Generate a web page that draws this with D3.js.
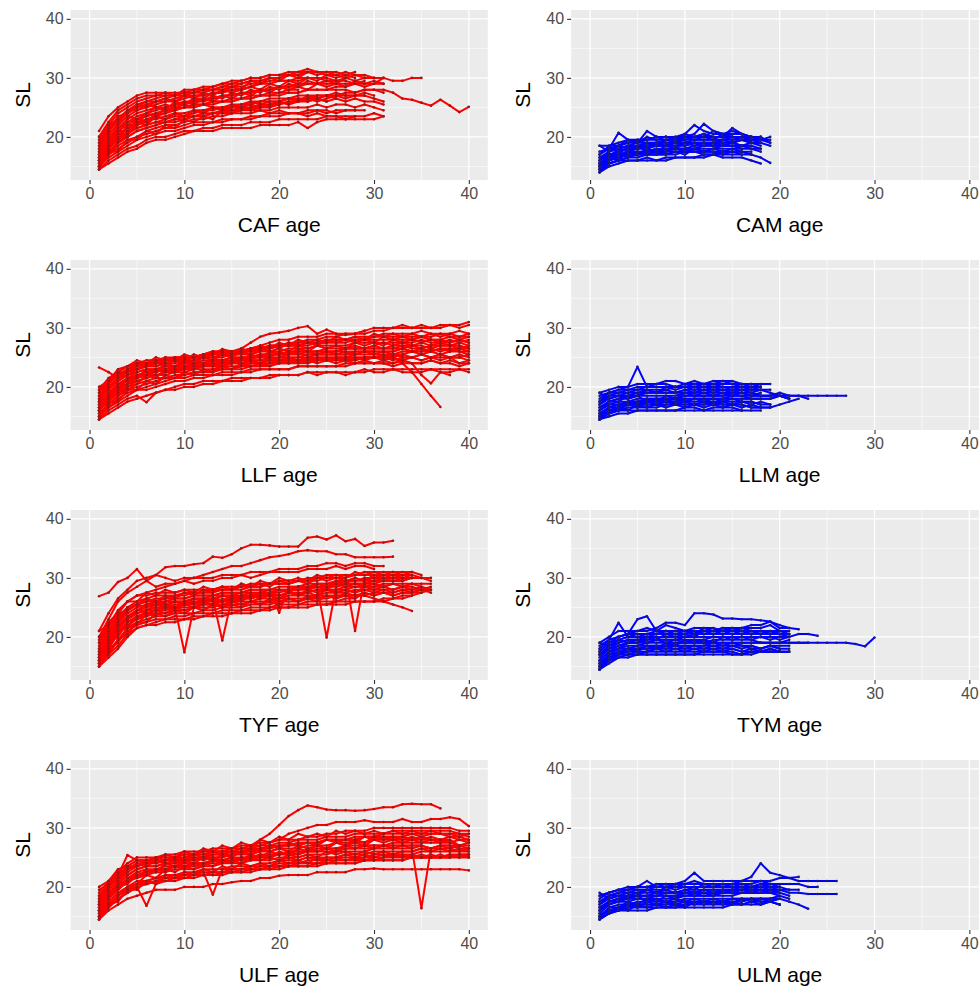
<!DOCTYPE html>
<html><head><meta charset="utf-8">
<script src="https://cdn.jsdelivr.net/npm/d3@7"></script>
<style>
body{margin:0;background:#fff;}
svg{display:block;}
text{font-family:Arial,"Liberation Sans",sans-serif;}
</style>
</head><body>
<svg id="chart" width="979" height="990"></svg>
<script>
// ---------- tick labels ----------
const xTicks = [0, 10, 20, 30, 40];
const xMinor = [5, 15, 25, 35];
const yTicks = [20, 30, 40];
const yMinor = [15, 25, 35];

// ---------- panels ----------
const panelNames = ["CAF", "CAM", "LLF", "LLM", "TYF", "TYM", "ULF", "ULM"];
const panelColors = ["red", "blue", "red", "blue", "red", "blue", "red", "blue"];

// each inner array: SL values of one fish at ages 1, 2, 3, ...
const CAF = [
[14.5,15.5,16.5,17.5,18,19,19.5,19.5,20,20.5,21,21,21,21.5,21.5,21.5,21.5,22,22,22,22,22.5,21.5,22.5,23,23,23,23,23,23,23.5],
[15,16.5,17.5,18.5,19.5,20,20.5,21,21,21.5,22,22,22.5,22.5,23,23,23,23.5,23.5,23.5,24,24,24,24.5,24,24.5,24.5,24.5],
[15,17,18.5,19.5,20,21,21.5,22,22,22.5,23,23,23.5,23.5,24,24,24,24.5,24.5,25,25,25,25,25.5,25,25.5,25.5,25,25.5,25,24.5],
[16,18,19.5,20.5,21.5,22,22.5,22.5,23,23.5,23.5,24,24,24.5,24.5,25,25,25.5,25.5,25.5,26,26,26,26.5,26],
[16.5,18.5,20,21.5,22,23,23,23.5,24,24,24.5,24.5,25,25,25.5,25.5,26,26,26.5,26.5,26.5,27,27,27,27,27.5,27,27,27.5,27],
[17,19.5,21,22,23,23.5,24,24.5,24.5,25,25.5,25.5,26,26,26.5,26.5,27,27,27.5,27.5,28,28],
[17.5,20,21.5,23,24,24.5,25,25,25.5,26,26,26.5,26.5,27,27,27.5,27.5,28,28,28.5,28.5,28.5,29,29,29,29,29,29,28.5,29,29],
[18.5,21,22.5,24,25,25.5,26,26,26.5,27,27,27,27.5,27.5,28,28,28.5,29,29,29.5,29.5,29.5,30,30,30,29.5,30],
[19.5,22,24,25,26,26.5,27,27,27,27.5,27.5,28,28,28.5,28.5,29,29.5,29.5,30,30,30.5,30.5,31,31,31,30.5,31,30.5,30.5,30,30],
[21,23.5,25,26,27,27.5,27.5,27.5,27,28,28,28.5,28.5,29,29.5,29.5,30,30,30.5,30.5,31,31,31.5,31,31,31,30.5,31],
[16,18.5,20.5,21.5,22.5,23,23.5,24,24.5,25,25,25.5,25.5,26,26,26.5,26.5,27,27,27,27.5,27.5,28,28,28,28.5,28.5,29,29,29,30,29.5,29.5,30,30],
[15.5,17.5,19,20,21,21.5,22,22.5,23,23,23.5,23.5,24,24,24.5,24.5,25,25,25.5,25.5,26,26,26.5,26.5,27,27,27.5,27.5,28,28,28,27.5,26.5,26.3,25.8,25.3,26.3,25.3,24.2,25.1],
[15.5,17.5,19,20,21,21.5,22,22.5,22.5,23,23.5,23.5,24,24,24,24.5,24.5,25,25,25.5],
[17,19.5,21.5,22.5,23.5,24,24.5,25,25.5,25.5,26,26,26.5,27,27,27.5,27.5,28,28,28.5,28.5,29,29,29,29.5,29.5],
[18,21,23,24.5,25.5,26,26.5,27,27,27.5,27.5,28,28,28.5,29,29,29.5,29.5,30,30,30.5,30.5,31,31],
[16,18,19.5,21,21.5,22,22.5,23,23.5,23.5,24,24.5,24.5,25,25,25.5,25.5,26,26,26,26.5,26.5,26.5,27,27,27,27,27,27,26.5,26],
[15,17,18,19,20,20.5,21,21.5,21.5,22,22.5,22.5,22.5,23,23,23,23.5,23.5,24,24,24,24,24.5,24.5,24.5,24,24.5,24.5,24.5],
[18,20.5,22,23.5,24.5,25,25.5,26,26,26.5,27,27,27.5,27.5,28,28,28.5,29],
[20,22.5,24.5,25.5,26.5,27,27,27.5,27.5,27.5,28,28,28.5,29,29,29.5,30,30,30.5,30.5,30.5,31,31,31,30.5,30.5,30,30.5,30,30],
[16.5,19,21,22.5,23,23.5,24,24.5,25,25,25.5,25.5,26,26,26,26.5,26.5,27,27,27.5,27.5,27.5,28,28,28,28,28,27.5,28,28,27.5],
[19,21.5,23,24,25,26,26,26.5,27,27,27.5,27.5,28,28,28.5,28.5,29,29,29.5,29.5,29.5,30,30,30,29.5,29.5,29.5,29,29.5],
[14.5,16,17,18,18.5,19.5,20,20,20.5,21,21,21.5,21.5,22,22,22,22.5,22.5,22.5,23,23,23,23,23,23.5,23.5,23.5,23.5,23.5,24,23.5],
[15,17,19,20.5,22,22.5,24,24,25.5,25.5,26.5,26.5,27.5,27.5,28.5,28,29.5,29,30,29.5,30.5,30,31,30.5,31],
[20,22,23,24.5,24.5,25.5,25,25.5,25,25.5,25,25.5,25,25,24.5,25,24.5,24.5,24,24.5,24,24,23.5,24,23.5,23.5,23,23.5],
[16,19,19.5,22,22,24,23.5,25,24.5,26,25.5,26.5,26,27,26.5,27.5,27,28,27.5,28.5,28,28.5,28,29,28.5,29,28.5,29.5,29,29.5,29],
[17.5,18.5,21,21,23,22.5,23.5,23,24,23.5,24.5,24,25,24.5,25.5,25,26,25.5,26,26,26.5,26,27,26.5,27,26.5],
[18.5,20.5,22,23.5,23,24,25,24.5,26,25.5,26.5,26,27,26.5,27.5,27,28,27.5,28.5,28,29,28.5,29.5,29,29.5,29,30,29.5,30],
[14.5,17.5,17.5,19.5,19.5,21,20.5,22,21.5,23,22.5,23.5,23,24.5,24,25,24.5,25.5,25,26,25.5,26.5,26,26.5,26,26.5,26,26.5,26,26,25.5],
[19,21,23.5,24,25.5,25,26,26.5,26,27,26.5,27.5,27,28,27.5,28,28.5,28,29,28.5,29.5,29,30,29.5,30.5,30,30.5,30],
[16.5,18,20.5,20.5,22.5,22,23.5,23,24,23.5,24.5,24,25,24.5,25,25,25.5,25,25.5,26,25.5,26,26.5,26,26.5,27,26.5,27,27]
];

const CAM = [
[14,15.5,16,16.5,16.5,17,17,17,17.5,17.5,17.5,17.5,18,18,18,18,18,17.5],
[15,16,17,17.5,18,18,18.5,18.5,18.5,19,19,19,19,19.5,19,19.5,19.5,19.5,19.5],
[16,17.5,18,18.5,19,19,19,19.5,19.5,19.5,20,20,20,20,20,20,20,19.5,20],
[18.5,18.5,19,19.5,19.5,19.5,20,20,20,20.5,22,21,20.5,20.5,21,20.5,20,20],
[14.5,15.5,16,16,16,16.5,16,16.5,16.5,16.5,16.5,16.5,17,16.5,16.5,16.5,16,15.5],
[15,16.5,17,17.5,17.5,17.5,18,18,18,18,18.5,18.5,18.5,18.5,18.5,18.5,18.5],
[16.5,17.5,18.5,19,19,19.5,19.5,19.5,19.5,20,20,20.5,20,20,21.5,20.5,20,20,19],
[14.5,16,16.5,17,17,17.5,17.5,17.5,18,18,18,18,18,18.5,18.5,18.5,18,18],
[15.5,17,17.5,18,18,18.5,18.5,18.5,19,19,19,19,19,19,19,19.5,19,19],
[17,18,18.5,19,19.5,19.5,20,20,20,20,20.5,22.2,21,20.5,20.5,20.5,20,19.5],
[14,15,15.5,16,16,16,16,16,16.5,16.5,16.5,17,17,17,17,17],
[15.5,16.5,17,17,17.5,17.5,17.5,18,18,18,18,18.5,18.5,18.5,18.5,18],
[16,17.5,18,18.5,18.5,19,19,19,19,19.5,19.5,19.5,19.5,19.5,20,19.5,19.5,19,18.5],
[15,16,16.5,17,17,17,17,17.5,17.5,17.5,17.5,17,17,17.5,17.5,17.5,17],
[17.5,18,20.7,19.5,19,21,20,20,19.5,20,20,20,21,20.5,20,20,20],
[16,17,17.5,18,18,18.5,18.5,18.5,18.5,18.5,19,19,19,19,19,18.5,19,18.5],
[14.5,15.5,16,16.5,17,17,17,17,17,17.5,17.5,17.5,17.5,17.5,17.5,17.5,17,16.5,15.6],
[15.5,16.5,17.5,18,18.5,18.5,19,19,19,19,19.5,19.5,19.5,19.5,19.5,19.5,19,19],
[14,16.5,16,17.5,17,18,17.5,18.5,18,19,18.5,19,18.5,19.5,19,19.5,19],
[18.5,17.5,18.5,18,18.5,17.5,18,17.5,18,17.5,18,17.5,17.5,17,17.5,17,17],
[15,17,17,18.5,18,19,18.5,19.5,19,20,19.5,20,19.5,20.5,20,20,19.5,20],
[16.5,16.5,18,17.5,18.5,18,19,18.5,19,18.5,19,18.5,19,18.5,19,18.5,18.5,18],
[15.5,16,17,16.5,17.5,17,17.5,17,17.5,17,18,17.5,18,17.5,18,17.5,17.5],
[17,18.5,18.5,19.5,19,20,19.5,20,19.5,20.5,20,20.5,20,20,19.5,20,19.5,19.5,19]
];

const LLF = [
[14.5,15.5,16.5,17.5,18,18.5,19,19.5,19.5,20,20,20.5,20.5,21,21,21,21.5,21.5,21.5,22,22,22,22.5,22,22.5,22.5,22,22.5,23,22.5,22.5,23,22.5,22.5,22.5,23,22.5,22.5,23,22.5],
[15,16.5,17.5,18.5,19.5,19.5,20,20.5,21,21,21.5,21.5,22,22,22,22.5,22.5,23,23,23,23,23.5,23.5,23.5,23.5,23.5,24,24,24,24,24,24,24.5,24,24,24.5,24,24.5,24,24],
[16,17.5,19,20,21,21.5,22,22,22.5,22.5,23,23,23,23.5,23.5,23.5,24,24,24,24.5,24.5,24.5,25,25,25,25,25,25.5,25.5,25.5,25.5,25.5,25.5,26,25.5,26,25.5,26,26,25.5],
[17,19,20.5,21.5,22.5,23,23,23.5,23.5,24,24,24,24.5,24.5,25,25,25,25.5,25.5,25.5,26,26,26,26,26.5,26.5,26.5,26.5,26.5,27,26.5,27,27,27,26.5,27,27,27,26.5,27],
[18,20,21.5,22.5,23.5,24,24,24.5,24.5,24.5,25,25,25.5,25.5,25.5,26,26,26.5,26.5,27,27,27,27,27.5,27.5,27.5,27.5,28,28,28,28,28,28,28,28.5,28,28,28.5,28,28.5],
[19,21,22,23,24,24,24.5,24.5,25,25,25,25.5,26,26,26,26.5,27.5,28.5,29,29.2,29.5,30,30.3,29,29.7,29,28.8,29,29,29.5,29.5,30,30,30,30,30,30.5,30.5,30.5,31],
[18.5,20.5,22,23,23.5,24,24,24.5,24.5,25,25,25.5,25.5,26,26,26,26.5,26.5,27,27,27.5,27.5,28,28,28.5,28.5,29,29,29.5,30,30,30,30.5,30,30.5,30,30,30.5,30,30.5],
[17.5,19.5,21,22,23,23.5,23.5,24,24.5,24.5,25,25,25,25.5,25.5,26,26,26.5,26.5,27,27,27,27.5,27.5,28,28,28,28.5,28.5,28.5,29,29,29,29,29.5,29,29,29,29.5,29],
[15.5,17,18.5,19.5,20,20.5,21,21.5,21.5,22,22.5,22.5,22.5,23,23,23,23.5,23.5,23.5,24,24,24,24,24.5,24.5,24.5,24.5,24.5,25,25,25,24.5,25,25,24.5,25,25,25,25,24.5],
[16,18,19,20.5,21,21.5,22,22.5,22.5,23,23,23.5,23.5,23.5,24,24,24,24,24.5,24.5,24.5,24.5,24.5,25,25,25,25,25,25,25,25,25,24,22.5,20.5,18.5,16.6],
[23.3,22.5,21.5,22,22.5,23,23,23.5,23.5,24,24,24.5,24.5,24.5,25,25,25,25.5,25.5,25.5,25.5,26,26,26,26,26,26.5,26.5,26.5,26.5,26.5,26.5,26.5,27,27,26.5,27,27,27,26.5],
[14.5,16,17,18,18.5,17.4,19,19.5,20,20.5,20.5,21,21,21,21.5,21.5,21.5,21.5,22,22,22,22,22.5,22.5,22.5,22.5,22.5,22.5,22.5,23,23,23,23,23,23,23,23,23,23,23],
[15,16.5,18,19,19.5,20,20.5,21,21.5,21.5,22,22,22,22.5,22.5,22.5,23,23,23,23,23,23.5,23.5,23.5,23.5,23.5,23.5,24,24,24,24,23.5,24,24,22,20.6,22.5,22],
[16.5,18.5,20,21,22,22.5,22.5,23,23,23.5,23.5,24,24,24,24.5,24.5,25,25,25,25,25.5,25.5,25.5,25.5,26,26,26,26,26,26,26,26,26.5,26,26,26.5,26,26.5,26,26],
[17.5,19.5,21,22,23,23.5,23.5,24,24,24.5,24.5,25,25,25,25.5,25.5,25.5,26,26,26,26.5,26.5,26.5,27,27,27,27,27.5,27.5,27.5,27.5,27.5,27.5,27.5,28,27.5,27.5,27.5,28,27.5],
[16,18,19.5,20.5,21.5,22,22,22.5,23,23,23.5,23.5,23.5,24,24,24,24.5,24.5,24.5,25,25,25,25,25.5,25.5,25.5,25.5,25.5,26,26],
[19,21,22.5,23.5,24,24.5,24.5,25,25,25,25,25.5,26,26,26,26,26.5,26.5,26.5,27,27,27,27.5,27.5,27.5],
[15.5,17,18.5,19.5,20.5,21,21.5,21.5,22,22,22.5,22.5,23,23,23,23.5,23.5,23.5,24,24,24,24.5,24.5,24.5,24.5,25,25,25,25,25,25,25.5,25,25,25.5,25,25.5,25,25,25.5],
[17,18.5,20,21.5,22,22.5,23,23,23.5,23.5,24,24,24.5,24.5,24.5,25,25,25,25.5,25.5,25.5,26,26,26,26,26,26.5,26.5,26.5,26.5,26.5,26.5,27,26.5,26.5,27,27,27,27,26.5],
[19.5,21.5,22.5,23.5,24,24,24.5,24.5,25,25,25,25.5,25.5,26,26,26,26.5,26.5,27,27,27,27.5,27.5,27.5,28,28,28,28,28,28.5,28.5,28.5,28.5,28.5,28.5,28.5,29,28.5,28.5,28.5],
[16.5,18,19.5,20.5,21.5,22,22.5,23,23,23,23.5,23.5,24,24,24,24.5,24.5,24.5,25,25,25,25,25.5,25.5,25.5,25.5,25.5,26,26,26,26,26,26.5,26,26,26,26.5,26.5,26.5,26.5],
[18,20,21.5,22.5,23,23.5,24,24,24.5,24.5,25,25,25.5,26.4,26,26,26.5,27,27.5,28,28,28.5,28.5,28.5,29,29,29,29,29.5],
[15,17,18.5,20,20.5,22,21.5,23,22.5,23.5,23,24,23.5,24.5,24,25,24.5,25.5,25,26,25.5,26.5,26,27,26.5,27,26.5,27.5,27,27.5,27,28,27.5,28,27.5,28,27.5,28,27.5,28],
[19.5,20.5,22.5,22.5,24,23.5,24.5,24,24.5,24,24.5,24,24.5,24,24.5,24,24.5,24,24.5,24,24.5,24,24.5,24,24.5,24,24.5,24,24.5,24,24.5,24,24.5,24,24,24.5,24,24,23.5,24],
[16,18.5,19.5,21.5,21.5,23,22.5,24,23.5,24.5,24,25,24.5,25.5,25,26,25.5,26.5,26,26.5,26,27,26.5,27,26.5,27,26.5,27,26.5,27,27.5,27,27.5,27,27.5,27,27.5,27,27.5,27],
[17.5,18.5,20.5,21,22,22,23,22.5,23.5,23,24,23.5,24,23.5,24.5,24,24.5,24,25,24.5,25,24.5,25,24.5,25,24.5,25,24.5,25,25,25.5,25,25.5,25,25.5,25,25.5,25,25.5,25],
[14.5,17.5,17.5,19.5,19.5,21,20.5,22,21.5,22.5,22,23,22.5,23.5,23,24,23.5,24,23.5,24.5,24,24.5,24,25,24.5,25,24.5,25,24.5,25,24.5,25,24.5,25,24.5,25,24.5,25,24,24.5],
[18.5,20,21.5,23,23,24,24,25,24.5,25.5,25,25.5,25.5,26,25.5,26.5,26,27,26.5,27.5,27,28,27.5,28,27.5,28.5,28,28.5,28,29,28.5,29,28.5,29,28.5,29,28.5,29,28.5,29],
[16.5,18,20,20.5,22,22,23,23,23.5,23.5,24,24,24.5,24.5,25,24.5,25.5,25,26,25.5,26,25.5,26,25.5,26,25.5,26,25.5,26,25.5,26,25.5,26,26,26.5,26,26.5,26,26.5,26],
[20,21,23,23.5,24.5,24,25,24.5,25,24.5,25.5,25,26,25.5,26,25.5,26.5,26,27,26.5,27.5,27,27.5,27,28,27.5,28,27.5,28,27.5,28.5,28,28.5,28,28.5,28,28,27.5,28,27.5]
];

const LLM = [
[14.5,15.5,16,16,16,16,16,16,16,16.5,16.5,16,16.5,16.5,16.5,16,16,16],
[15,16,16.5,17,17,17,17,17.5,17.5,17.5,17.5,17.5,17.5,17.5,17.5,17.5,17.5,17],
[16,17,17.5,17.5,18,18,18,18,18,18.5,18.5,18.5,18.5,18.5,18.5,18.5,18.5,18.5,18.5],
[17,18,18.5,18.5,18.5,19,19,19,19,19,19,19.5,19.5,19.5,19.5,19.5,19.5,19.5,19.5],
[18,19,19.5,20,23.4,20,20,20,20,20,20.5,20.5,20.5,20.5,20.5,20.5,20.5,20],
[15.5,16.5,17,17,17.5,17.5,17.5,17.5,17.5,18,18,18,18,18,18,18,18,18,18,18.5,18.5,18.5,18.5,18.5,18.5,18.5,18.5],
[16.5,17.5,18,18,18.5,18.5,18.5,18.5,18.5,19,19,19,19,19,19,19,18.5,18.5,18.5,18.5,18],
[19,19.5,20,20,20.5,20.5,20.5,21,21,20.5,21,20.5,21,21,21,20.5,20.5,20.5,20.5],
[14.5,15.5,16,16.5,16.5,16.5,16.5,17,17,17,17,17,17,17,17,17,16.5,16.5,16.5,17,17.5,18],
[15,16,16.5,17,17,17.5,17.5,17.5,17.5,17.5,18,18,18,18,18,18,18,18,18,18.5,18],
[17.5,18.5,19,19,19.5,19.5,19.5,19.5,20,20,20,20,20,20,20,20,20,20],
[16,17,17,17.5,17.5,17.5,18,18,18,18,18,18,18,18,18.5,18.5,18,18],
[14.5,15,15.5,15.5,16,16,16,16,16,16,16,16,16,16,16,16],
[18.5,19,19,19.5,19.5,20,20,20,20,20,20,20.5,20,20.5,20.5,20,20],
[15,16.5,17,17.5,17.5,18,18,18,18,18.5,18.5,18.5,18.5,18.5,19,19,19,18.5,18.5,19,18.5,18.5,18],
[16.5,17.5,18,18.5,19,19,19,19,19,19.5,19.5,19.5,19.5,19.5,19.5,19.5,19.5,19.5],
[15.5,16.5,17,17,17,17,17,17,17,17,17,17,17.5,17,17,17,16.5,16.5,16.5],
[17.5,19,19.5,19.5,20,20,20.5,20.5,20,20.5,20.5,20.5,20.5,21,20.5,20.5,20,20],
[14.5,16.5,16.5,17.5,17,18,17.5,18.5,18,19,18.5,19,18.5,19,18.5,19,18.5,19],
[19,18,18.5,18,18.5,17.5,18,17.5,18,17.5,18,17.5,18,17.5,18,17.5,17.5,17,17],
[16,17.5,17.5,18.5,18.5,19.5,19,20,19.5,20,19.5,20,19.5,20,19.5,20,19.5,20],
[15,16,16,17,16.5,17.5,17,17.5,17,17.5,17,17.5,17,17.5,17,17.5,17,17.5,17],
[17,18.5,18.5,19,19,19.5,19,19.5,19,19.5,19,19.5,19,19.5,19,19.5,19,19.5,19,18.5,18],
[15.5,15.5,16.5,16,17,16.5,17,16.5,17,16.5,17,16.5,17,16.5,17,16.5,17,16.5]
];

const TYF = [
[26.9,27.5,29.3,30,31.5,29.5,28.5,29,29,29.5,29,29.5,29.5,30,30,30.5,30,30.5,31,31,31,31,31.5,31.5,31.5,32,31.5,32,32,31.5],
[20,23,26,27.5,28.5,29.5,30.5,31.8,32,32,32.3,32.5,33.6,33.4,34,35,35.6,35.6,35.5,35.3,35.3,35.3,36.8,37,36.5,37.2,36.2,36.6,35.4,36,36,36.3],
[19,22,24.5,26,27,27.5,28,28.5,29,29.5,30,30.5,31,31.5,32,32,32.5,33,33.5,33.7,34,34.5,34.7,34.5,34.5,34,34,33.5,33.5,33.5,33.5,33.6],
[16,18.5,21,22.5,23.5,24,24.5,25,25,17.4,25,25.5,25.5,26,26,26.5,26.5,27,27,27,27.5,27.5,27.5,28,28,28,28.5,28.5,28.5,28.5,29,29],
[16.5,19,21.5,23,24,24.5,25,25,25.5,25.5,26,26,26.5,19.4,26.5,27,27,27,27.5,27.5,28,28,28,28.5,28.5,28.5,29,29,29,29,29.5,29.5,29.5],
[17,19.5,22,23.5,24.5,25,25.5,25.5,26,26,26.5,26.5,27,27,27,27.5,27.5,27.5,28,28,28,28.5,28.5,28.5,19.9,28.5,29,29,29,29.5,29.5,29.5,29.5],
[18,21,23,24.5,25.5,26,26.5,26.5,27,27,27.5,27.5,27.5,28,28,28,28.5,28.5,29,29,29,29.5,29.5,29.5,30,30,30,21,30,30,30.5,30.5,30.5,30.5],
[17.5,20,22.5,24,25,25.5,26,26,26.5,26.5,27,27,27,27.5,27.5,27.5,28,28,28,24.1,28.5,28.5,28.5,29,29,29,29.5,29.5,29.5,29.5,30,30],
[16,18,20.5,22,23,23.5,24,24,24.5,24.5,25,25,25,25.5,25.5,25.5,26,26,26,26.5,26.5,26.5,26.5,27,27,27,27,27,27,26.5,26,25.5,25,24.4],
[15,16.5,18,20,21.5,22,22,22.5,22.5,23,23,23.5,23.5,23.5,24,24,24,24.5,24.5,25,25,25,25,25.5,25.5,25.5,25.5,26,26,26,26,26.5,26.5,27,27.5,28],
[15.5,17.5,19.5,21.5,22.5,23,23.5,23.5,24,24,24,24.5,24.5,25,25,25,25.5,25.5,25.5,26,26,26,26.5,26.5,26.5,27,27,27,27,27.5,27.5,27.5,28,28,28,28.5],
[16.5,19,21.5,23,24,24.5,25,25,25,25.5,25.5,26,26,26,26.5,26.5,26.5,27,27,27,27.5,27.5,27.5,28,28,28,28,28.5,28.5,28.5,28.5,29,29,29,29,29],
[18,20.5,22.5,24.5,25.5,26,26,26.5,26.5,26.5,27,27,27,27.5,27.5,27.5,28,28,28,28.5,28.5,28.5,29,29,29,29.5,29.5,29.5,30,30,30,30,30,30,30,29.5],
[20,22,24,26,27,27,27.5,27.5,27.5,28,28,28,28,28.5,28.5,28.5,29,29,29,29.5,29.5,29.5,30,30,30.5,30.5,30.5,30.5,31,31,31,31,31,31,30.5],
[21,24,26.5,28,29.5,30,30.5,30,29.5,30,30,30,30,30.5,30.5,30.5,31,31,31,31.5,31.5,31.5,32,32,32.5,32.5,32,32.5,32.5,32,32],
[15,17.5,19.5,21,22,22.5,23,23,23.5,23.5,24,24,24,24.5,24.5,24.5,25,25,25,25.5,25.5,25.5,26,26,26,26,26.5,26.5],
[17,19.5,22,23.5,24.5,25.5,25.5,26,26,26,26.5,26.5,26.5,27,27,27,27.5,27.5,27.5,28,28,28,28.5,28.5,28.5,29,29,29,29,29.5,29.5,29.5,29.5,30,30],
[16,18.5,21,22.5,23.5,24,24.5,24.5,25,25,25,25.5,25.5,25.5,26,26,26,26.5,26.5,26.5,27,27,27,27,27.5,27.5,27.5,28,28,28,28,28,28.5,28.5,28],
[19,21.5,23.5,25,26,26.5,27,27,27,27.5,27.5,27.5,28,28,28,28.5,28.5,28.5,29,29,29,29.5,29.5,30,30,30,30,30.5,30.5,30.5,30.5,30.5,30,30],
[15.5,17,18.5,20.5,21.5,22,22.5,23,23,23,23.5,23.5,24,24,24,24.5,24.5,24.5,25,25,25,25.5,25.5,25.5,25.5,26,26,26,26,26,26.5,26.5,27,27],
[15,18,19,21.5,22,24,23.5,25,24.5,25.5,25,26,25.5,26.5,26,27,26.5,27.5,27,28,27.5,28.5,28,29,28.5,29.5,29,30,29.5,30.5,30,30.5,30,30.5,30,30],
[21,22,24,24.5,25.5,25,26,25.5,26,25.5,26.5,26,26.5,26,27,26.5,27,26.5,27.5,27,27.5,27,28,27.5,28,27.5,28,27.5,28,27.5,28,27.5,28,27.5,28,27.5],
[16,19,20,22.5,23,24.5,24.5,25.5,25,26,25.5,26.5,26,27,26.5,27,27,27.5,27,28,27.5,28.5,28,28.5,28,29,28.5,29,28.5,29,28.5,29,28.5,29,28.5],
[17.5,19.5,22,23,24.5,24.5,25.5,25,26,25.5,26,25.5,26.5,26,26.5,26,27,26.5,27,26.5,27.5,27,27.5,27,28,27.5,28,27.5,28.5,28,28.5,28,28.5,28,28.5,28],
[18.5,21,23,25,25.5,26.5,26,27,26.5,27.5,27,28,27.5,28.5,28,29,28.5,29.5,29,30,29.5,30,29.5,30.5,30,30.5,30,31,30.5,31,30.5,31,30.5,31],
[15.5,17,19.5,20.5,22.5,22.5,24,23.5,24.5,24,25,24.5,25.5,25,26,25.5,26,25.5,26.5,26,26.5,26,27,26.5,27,26.5,27.5,27,27.5,27,27.5,27,27.5,27.5,27.5],
[19.5,22.5,24,26,26,27.5,27,28,27.5,28,27.5,28.5,28,28.5,28,29,28.5,29,28.5,29.5,29,29.5,29,30,29.5,30,29.5,30,29.5,30,29.5,30,29.5,30],
[16.5,18,21,21.5,23.5,23.5,24.5,24,25,24.5,25,24.5,25.5,25,25.5,25,26,25.5,26,25.5,26.5,26,26.5,26,27,26.5,27,26.5,27.5,27,27.5,27,27.5,27.5,28,28]
];

const TYM = [
[14.5,16,17,17,17,17.5,17.5,17.5,17.5,17.5,17.5,17.5,17.5,17.5,17.5,17,17,17.5,17.5,17.5],
[15,16.5,17.5,18,18,18,18,18.5,18.5,18.5,18.5,18.5,18.5,18.5,18.5,18.5,18,18,18.5,18.5,18.5],
[16,17.5,18,18.5,18.5,19,19,19,19,19,19,19,19.5,19.5,19.5,19.5,19.5,19,19,19,19.5],
[17,18,19,19.5,19.5,19.5,20,20,20,20,20,20,20,20,20,20,20,20,20,20,20.5],
[18,19.5,20,20.5,20.5,20.5,21,21,21,21,21,21,21,21,21,21,20.5,21,21,20.5],
[18.5,19.5,22.4,20,20.5,20.5,20.5,21,21,21,20.5,21,21,21,21.5,21,21,21,21,21],
[17.5,19,20,20.5,23,23.5,21,21,21,21,21,21,21,21,21,21,21,21,20.5],
[18,19.5,20,20.5,21,21,21.5,22.4,22.4,22,24,24,23.8,23.1,23.1,23,23,22.8,22.6,22,21.5],
[15.5,17,17.5,18,18,18.5,18.5,18.5,19,19,19,19,19,19,19,19,19,19,19,19,19,19,19,19,19,19,19,18.8,18.4,19.9],
[16.5,18,18.5,19,19,19.5,19.5,19.5,19.5,20,20,20,20,20,20,20,20,20,20,20,20,20.5,20.5,20.2],
[15,16.5,17,17.5,17.5,17.5,18,18,18,18,18,18,18,18,18,17.5,17.5,17.5,17.5,17.5],
[14.5,15.5,16.5,17,17,17,17,17,17,17,17,17.5,17.5,17.5,17,17,17.5,17.5,18,17.5,17.5],
[16,17.5,18.5,19,19,19,19.5,19.5,19.5,19.5,19.5,19.5,20,20,20,20,20,20,20,19.5,20],
[19,20,21,21,21,21.5,21,22,21.5,21,21.5,21.5,21.5,21,21.5,21.5,21.5,21.5,22,21,21],
[15.5,17,18,18,18.5,18.5,18.5,18.5,18.5,18.5,18.5,18.5,19,19,19,19,19,19,19,19,19,19,19],
[17,18.5,19,19.5,19.5,20,20,20,20,20,20.5,20.5,20.5,20.5,20.5,20.5,20.5,20.5,20.5,20.5,20.5],
[14.5,16,16.5,16.5,17,17,17,17,17,17,17,17,17,17,17,17,17.5,17.5,17.5,17.5,17.5],
[17,18.5,19.5,20,20,20,20.5,20.5,20.5,20.5,21,21,21,21.5,21.5,21.5,22,22,22.6,21.5,21.5,21.3],
[14.5,16.5,17,18,17.5,18.5,18,19,18.5,19.5,19,19.5,19,20,19.5,20,19.5,20,19.5,20],
[19,18.5,19.5,19,19.5,19,19.5,19,19.5,19,19.5,19,19,18.5,19,18.5,18.5,18,18.5,18],
[16,17.5,18,19,19,20,19.5,20.5,20,20.5,20,21,20.5,21,20.5,21,20.5,21,20.5,21,20.5],
[15,16,17,17,17.5,17.5,18,17.5,18,17.5,18,17.5,18,17.5,18,17.5,18,17.5,18,17.5,17.5],
[17.5,19,19.5,20,20,20.5,20.5,21,20.5,21,20.5,21.5,21,21.5,21,21.5,21,21,20.5,21],
[15.5,16.5,17.5,17.5,18,18,18.5,18,18.5,18,18.5,18,18.5,18,18.5,18,18.5,18,18.5,18,18]
];

const ULF = [
[14.5,16,17,18,18.5,19,19.5,19.5,19.5,20,20,20,20.5,20.5,20.8,21,21,21.5,21.5,21.9,22,22,22,22.5,22.5,22.5,22.5,23,23,23.1,23,23,23,23,23,23,23,23,23,22.8],
[15,17,18.5,19.5,20,16.8,20.5,21,21,21.5,21.5,22,22,22,22.5,22.5,22.5,23,23,23,23.5,23.5,23.5,23.5,24,24,24,24,24.5,24.5,24.5,24.5,24.5,25,25,25,25,25,25,25],
[15.5,17.5,19,20,21,21,21.5,21.5,22,22,22.5,22.5,18.7,23,23,23,23.5,23.5,23.5,24,24,24,24.5,24.5,24.5,25,25,25,25,25.5,25.5,25.5,25.5,25.5,26,26,26,26,26,26],
[16,18,19.5,21,21.5,22,22.5,22.5,23,23,23,23.5,23.5,24,24,24,24.5,24.5,24.5,25,25,25,25.5,25.5,25.5,26,26,26,26,26.5,26.5,26.5,26.5,26.5,16.4,26.5,27,27,27,27],
[17,19,20.5,22,23,23.5,23.5,24,24,24.5,24.5,25,25,25,25.5,26,26.5,28,29,30.5,32,33,33.8,33.5,33.1,33,33,32.9,33,33.2,33.5,33.5,34,34.1,34,34,33.3],
[18,20,21.5,23,24,24,24.5,24.5,25,25,25.5,25.5,26,26,26,26.5,26.5,27,27.5,28,29,29.5,30,30.5,30.5,31,31,31,31.3,31,31,31,31.5,31,31,31.5,31.5,31.8,31.5,30.3],
[18.5,20.5,22,25.4,24.5,24.5,25,25,25,25.5,25.5,25.5,26,26,26,26.5,26.5,26.5,27,27,27,27.5,27.5,27.5,28,28,28,28,28.5,28.5,28.5,28.5,28.5,29,29,29,29,29,29,29],
[14.5,16.5,18,19,20,20.5,21,21,21.5,21.5,22,22,22,22.5,22.5,22.5,23,23,23,23.5,23.5,23.5,23.5,24,24,24,24,24,24.5,24.5,24.5,24.5,24.5,25,25,25,25,25,25.5,25.5],
[15.5,17,18.5,19.5,20.5,21,21.5,22,22,22.5,22.5,23,23,23,23.5,23.5,23.5,24,24,24.5,24.5,24.5,25,25,25,25,25.5,25.5,25.5,26,26,26,26,26,26.5,26.5,26.5,26.5,26,26.5],
[16.5,18.5,20,21.5,22.5,23,23,23.5,23.5,24,24,24,24.5,24.5,25,25,25,25.5,25.5,25.5,26,26,26,26.5,26.5,26.5,27,27,27,27,27,27.5,27.5,27.5,27.5,27.5,27.5,27.5,27,27.5],
[17.5,19.5,21,23,23.5,24,24,24.5,24.5,25,25,25,25.5,25.5,26,26,26,26.5,26.5,27,27,27.5,27.5,27.5,28,28,28,28.5,28.5,28.5,29,29,29,29,28.5,29,29,28.5,28.5,28],
[19,21,22.5,24,25,25,25,25.5,25.5,26,26,26,26.5,26.5,26.5,27,27,27.5,27.5,28,28,28,28.5,28.5,29,29,29.5,29.5,29.5,30,30,30,30,30,30,30,30,30,29.5,29.5],
[16,18,19.5,21,22,22.5,23,23,23.5,23.5,23.5,24,24,24,24.5,24.5,25,25,25,25.5,25.5,25.5,26,26,26,26,26.5,26.5,26.5,26.5,27,27,27,27,27],
[17,19,20.5,22,23,23.5,23.5,24,24,24.5,24.5,25,25,25,25.5,25.5,25.5,26,26,26.5,26.5,26.5,27,27,27,27.5,27.5,27.5,27.5,28,28,28,28,28,28,28,28,28],
[15,17,18.5,19.5,20.5,20.5,21,21.5,21.5,22,22,22.5,22.5,22.5,23,23,23,23.5,23.5,23.5,24,24,24,24,24.5,24.5,24.5,24.5,25,25],
[18,20,21.5,23.5,24.5,24.5,25,25,25,25.5,25.5,26,26,26,26.5,26.5,27,27,27,27.5,27.5,28,28,28,28.5,28.5,28.5,29,29,29,29,29.5,29.5,29.5,29.5,29.5,29.5,29.5,29,28.5],
[16,18,20,21,22,22.5,23,23,23.5,23.5,24,24,24.5,24.5,24.5,25,25,25,25.5,25.5,26,26,26,26,26.5,26.5,26.5,26.5,27,27,27,27,27,27,27,26.5,27,27,26.5,26.5],
[15,16.5,18,19,20,20.5,21,21.5,21.5,22,22,22,22.5,22.5,22.5,23,23,23,23.5,23.5,23.5,24,24,24,24,24.5,24.5,24.5,24.5,24.5,25,25,25,25,25,25,25,25.5,25.5,25.5],
[17.5,19.5,21,22.5,23.5,24,24,24.5,24.5,24.5,25,25,25.5,25.5,25.5,26,26,26.5,26.5,27,27,27,27.5,27.5,28,28,28,28,28.5,28.5,28.5,28.5,28.5],
[15,17,18.5,20,20.5,22,21.5,23,22.5,23.5,23,24,23.5,24.5,24,25,24.5,25.5,25,26,25.5,26.5,26,27,26.5,27.5,27,28,27.5,28.5,28,28.5,28,28.5,28,28.5,28,28.5,28,28],
[19.5,20.5,22.5,23,24,23.5,24.5,24,24.5,24,25,24.5,25,24.5,25,24.5,25,24.5,25,24.5,25,24.5,25,24.5,25,25,25.5,25,25.5,25,25.5,25,25.5,25,25.5,25,25.5,25,25.5,25],
[16,18.5,19.5,21.5,21.5,23,22.5,24,23.5,24.5,24,25,24.5,25.5,25,26,25.5,26.5,26,26.5,26,27,26.5,27,26.5,27.5,27,27.5,27,28,27.5,28,27.5,28,27.5,28,27.5,28,27,27.5],
[17,18.5,20.5,21,22.5,22,23,22.5,23.5,23,24,23.5,24.5,24,24.5,24,25,24.5,25,24.5,25.5,25,25.5,25,26,25.5,26,25.5,26,25.5,26,25.5,26,26,26.5,26,26.5,26,26.5,26],
[14.5,17,17.5,19.5,19.5,21,20.5,22,21.5,22.5,22,23,22.5,23.5,23,24,23.5,24,23.5,24.5,24,24.5,24,25,24.5,25,24.5,25,24.5,25,25,25.5,25,25.5,25,25.5,25,25.5,25,25.5],
[18.5,20,22,23.5,23.5,24.5,24.5,25.5,25,26,25.5,26.5,26,27,26.5,27.5,27,28,27.5,28.5,28,29,28.5,29,28.5,29.5,29,29.5,29,29.5,29,29.5,29,29.5,29,29.5,29,29,28.5,29],
[16.5,18,20,20.5,22,22,23,23,23.5,23.5,24,24,24.5,24.5,25,24.5,25.5,25,26,25.5,26,25.5,26.5,26,26.5,26,27,26.5,27,26.5,27,26.5,27,26.5,27,26.5,27,26.5,27,26.5],
[20,21,23,23.5,24.5,24,25,24.5,25,24.5,25.5,25,26,25.5,26,25.5,26.5,26,27,26.5,27.5,27,27.5,27,28,27.5,28,27.5,28.5,28,28.5,28,28.5,28,28.5,28,28,27.5,28,27.5]
];

const ULM = [
[14.5,15.5,16,16,16,16,16.5,16.5,16.5,16.5,16.5,16.5,16.5,16.5,17,17,17,17,17.5,17],
[15,16,16.5,17,17,17,17,17,17.5,17.5,17.5,17.5,17.5,17.5,18,18,18,18,18,18.5,18],
[16,17,17.5,17.5,18,18,18,18,18,18.5,18.5,18.5,18.5,18.5,18.5,19,19,19,19,19],
[17,18,18.5,18.5,19,19,19,19,19,19.5,19.5,19.5,19.5,19.5,19.5,19.5,20,20,20,20],
[18,19,19.5,19.5,20,20,20,20,20.5,20.5,20.5,20.5,20.5,20.5,20.5,21,21.7,24,22.4,22,21.5,21.7],
[18.5,19,19.5,20,20,20,20.5,20.5,20.5,21,22.4,21,21,21,21,21,21,21,21,21.5,21.5,21,21,21,21,21],
[16.5,17.5,18,18.5,18.5,18.5,18.5,19,19,19,19,19,19,19,19.5,19.5,19.5,19.5,19.5,19.5,19,19,18.8,18.8,18.8,18.8],
[15,16,16.5,16.5,17,17,17,17,17,17,17.5,17.5,17.5,17.5,17.5,17.5,18,18,18,18,17.5,17,16.3],
[14.5,15.5,16,16.5,16.5,16.5,16.5,16.5,16.5,17,17,17,17,17,17,17,17.5,17.5,17.5],
[15.5,17,17.5,18,18,18,18.5,18.5,18.5,18.5,18.5,18.5,18.5,19,19,19,19,19,19,18.5],
[17.5,18.5,19,19.5,19.5,19.5,20,20,20,20,20,20,20,20.5,20,20,20,20.5,20.5,20],
[16,17.5,18,18.5,18.5,18.5,19,19,19,19,19,19.5,19.5,19.5,19.5,19.5,19.5,19.5,19.5,19,18.5],
[18.5,19,19.5,19.5,20,21,20,20.5,20,20.5,21,20.5,20.5,20.5,20.5,20.5,20.5,21,20.5],
[15,16.5,17,17,17.5,17.5,17.5,17.5,17.5,18,18,18,18,18,18,18,18,18,18,18],
[16.5,17.5,18,18,18.5,18.5,18.5,18.5,18.5,19,19,19,19,19,19,19,19,19,19.5,19.5,19.5,19.5],
[17.5,18.5,19,19,19.5,19.5,19.5,19.5,20,20,20,20,20,20,20,20,20,20,20.5,20.5,20.5,20.5,20,20],
[14.5,16.5,16.5,17.5,17,18,17.5,18.5,18,19,18.5,19,18.5,19.5,19,19.5,19,19.5,19,19.5],
[19,18,18.5,18,18.5,17.5,18,17.5,18,17.5,18,17.5,18,17.5,18,17.5,18,17.5,17.5,17],
[16,17.5,17.5,18.5,18.5,19.5,19,20,19.5,20,19.5,20.5,20,20.5,20,20.5,20,20.5,20],
[15,16,16,17,16.5,17.5,17,17.5,17,17.5,17,17.5,17,17.5,17,18,17.5,18,17.5,18],
[17,18.5,18.5,19,19,19.5,19,19.5,19,19.5,19,19.5,19,19.5,19.5,20,19.5,20,19.5,20,19.5],
[15.5,15.5,16.5,16,17,16.5,17,16.5,17,16.5,17.5,17,17.5,17,17.5,17,17.5,17,17.5,17]
];

const panelData = [CAF, CAM, LLF, LLM, TYF, TYM, ULF, ULM];

// ---------- layout ----------
const colLeft = [70.6, 571.1];
const plotW = 417.2;
const rowTop = [10, 260, 510, 760];
const plotH = 170;

const svg = d3.select("#chart");
svg.append("rect").attr("width", 979).attr("height", 990).attr("fill", "#fff");

const lineCol = {red: "#FF0000", blue: "#0000FF"};
const ptCol = {red: "#A01515", blue: "#1A1A80"};

panelNames.forEach((name, i) => {
  const col = i % 2, row = Math.floor(i / 2);
  const g = svg.append("g").attr("transform", `translate(${colLeft[col]},${rowTop[row]})`);
  const x = d3.scaleLinear().domain([-2, 42]).range([0, plotW]);
  const y = d3.scaleLinear().domain([12.7, 41.5]).range([plotH, 0]);

  g.append("rect").attr("width", plotW).attr("height", plotH).attr("fill", "#EBEBEB");

  const grid = g.append("g");
  xMinor.forEach(v => grid.append("line").attr("x1", x(v)).attr("x2", x(v)).attr("y1", 0).attr("y2", plotH)
    .attr("stroke", "#fff").attr("stroke-width", 0.6));
  yMinor.forEach(v => grid.append("line").attr("y1", y(v)).attr("y2", y(v)).attr("x1", 0).attr("x2", plotW)
    .attr("stroke", "#fff").attr("stroke-width", 0.6));
  xTicks.forEach(v => grid.append("line").attr("x1", x(v)).attr("x2", x(v)).attr("y1", 0).attr("y2", plotH)
    .attr("stroke", "#fff").attr("stroke-width", 1.2));
  yTicks.forEach(v => grid.append("line").attr("y1", y(v)).attr("y2", y(v)).attr("x1", 0).attr("x2", plotW)
    .attr("stroke", "#fff").attr("stroke-width", 1.2));

  const c = panelColors[i];
  const line = d3.line().x((d, k) => x(k + 1)).y(d => y(d));
  const series = panelData[i];
  const lg = g.append("g");
  series.forEach(s => {
    lg.append("path").attr("d", line(s)).attr("fill", "none")
      .attr("stroke", lineCol[c]).attr("stroke-width", 2).attr("stroke-linejoin", "round");
  });
  series.forEach(s => {
    lg.selectAll(null).data(s).enter().append("circle")
      .attr("cx", (d, k) => x(k + 1)).attr("cy", d => y(d)).attr("r", 1.3)
      .attr("fill", ptCol[c]);
  });

  const xa = g.append("g").attr("transform", `translate(0,${plotH})`)
    .call(d3.axisBottom(x).tickValues(xTicks).tickSize(4).tickPadding(4));
  const ya = g.append("g")
    .call(d3.axisLeft(y).tickValues(yTicks).tickSize(4).tickPadding(3));
  [xa, ya].forEach(a => {
    a.select(".domain").remove();
    a.selectAll(".tick line").attr("stroke", "#333").attr("stroke-width", 1.1);
    a.selectAll(".tick text").attr("fill", "#4D4D4D").style("font-size", "16px")
      .style("font-family", "Arial, 'Liberation Sans', sans-serif");
  });

  g.append("text").attr("x", plotW / 2).attr("y", plotH + 52).attr("text-anchor", "middle")
    .style("font-size", "21px").attr("fill", "#000").text(name + " age");
  g.append("text").attr("transform", `translate(${-41},${plotH / 2}) rotate(-90)`)
    .attr("text-anchor", "middle").style("font-size", "21px").attr("fill", "#000").text("SL");
});
</script>
</body></html>
